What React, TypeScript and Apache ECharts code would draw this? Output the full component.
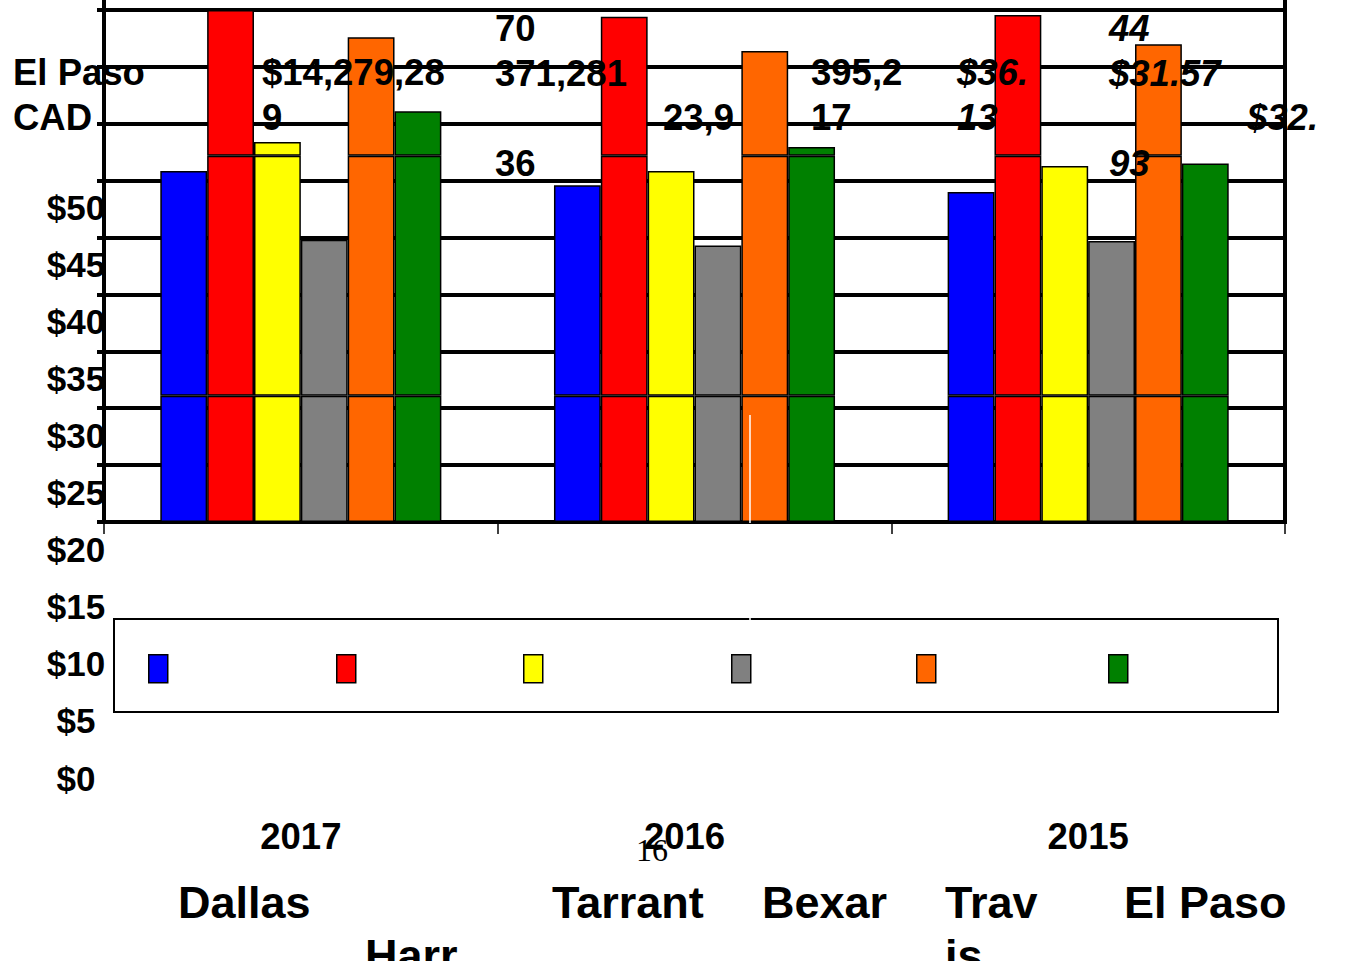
import React, { useEffect, useRef } from "react";
import * as echarts from "echarts";

// ---------- data ----------
const years = ["2017", "2016", "2015"];
const counties = ["Dallas", "Harris", "Tarrant", "Bexar", "Travis", "El Paso"];
const colors = ["#0000FF", "#FF0000", "#FFFF00", "#808080", "#FF6600", "#008000"];

const dallas = [30.85, 29.6, 29.0];
const harris = [45.0, 44.4, 44.55];
const tarrant = [33.4, 30.85, 31.3];
const bexar = [24.8, 24.3, 24.7];
const travis = [42.6, 41.4, 42.0];
const elPaso = [36.1, 32.95, 31.5];
const seriesValues = [dallas, harris, tarrant, bexar, travis, elPaso];

// levels where the bars show a horizontal seam
const seamLevels = [11.1, 32.2];

// bar value axis (visible part) and y tick labels range
const barAxisMax = 45;
const yMin = 0;
const yMax = 50;
const yStep = 5;

// loose text fragments printed over the chart
const noteTexts = [
  "El Paso\nCAD",
  "$14,279,28\n9",
  "70\n371,281\n\n36",
  "23,9",
  "395,2\n17",
  "$36.\n13",
  "44\n$31.57\n\n93",
  "$32.",
];
const noteItalic = [false, false, false, false, false, true, true, true];

// legend name fragments shown below the chart
const legendNameLines = [
  ["Dallas"],
  ["", "Harr", "is"],
  ["Tarrant"],
  ["Bexar"],
  ["Trav", "is"],
  ["El Paso"],
];

const pageNumber = "16";

// ---------- layout (positions only) ----------
const notePos = [
  [13, 1],
  [262, 1],
  [495, 0],
  [663, 2],
  [811, 1],
  [957, 1],
  [1109, 0],
  [1247, 2],
];
const rowCenters = [28, 72.5, 117.5, 162];
const legendMarkerX = [148, 336, 523, 731, 916, 1108];
const legendNameX = [178, 365, 552, 762, 945, 1124];

const FONT = "'Liberation Sans', Arial, Helvetica, sans-serif";

export default function App() {
  const ref = useRef<HTMLDivElement>(null);

  useEffect(() => {
    if (!ref.current) return;
    const chart = echarts.init(ref.current, null, { renderer: "svg" });

    const [b1, b2] = seamLevels;
    const series: any[] = [];
    seriesValues.forEach((vals, i) => {
      const segs = [
        vals.map((v) => Math.min(v, b1)),
        vals.map((v) => (v > b1 ? Math.min(v, b2) - b1 : "-")),
        vals.map((v) => (v > b2 ? v - b2 : "-")),
      ];
      segs.forEach((d) => {
        series.push({
          type: "bar",
          name: counties[i],
          stack: "s" + i,
          xAxisIndex: 0,
          yAxisIndex: 0,
          data: d,
          barGap: "0%",
          barCategoryGap: "28.6%",
          itemStyle: { color: colors[i], borderColor: "#000", borderWidth: 1.5 },
          emphasis: { disabled: true },
        });
      });
    });

    const legends = counties.map((c, i) => ({
      data: [c],
      left: legendMarkerX[i],
      top: 654,
      padding: 0,
      icon: "rect",
      itemWidth: 19,
      itemHeight: 28,
      selectedMode: false,
      formatter: () => "",
      itemStyle: { color: colors[i], borderColor: "#000", borderWidth: 1.5 },
    }));

    const graphics: any[] = [
      {
        type: "rect",
        shape: { x: 114, y: 619, width: 1164, height: 93 },
        style: { fill: "none", stroke: "#000", lineWidth: 2 },
        z: 0,
      },
      // axis lines continuing above the plot's visible top
      {
        type: "line",
        shape: { x1: 104, y1: 0, x2: 104, y2: 12 },
        style: { stroke: "#000", lineWidth: 4 },
        z: 50,
      },
      {
        type: "line",
        shape: { x1: 1285, y1: 0, x2: 1285, y2: 12 },
        style: { stroke: "#000", lineWidth: 4 },
        z: 50,
      },
      {
        type: "line",
        shape: { x1: 750, y1: 415, x2: 750, y2: 523 },
        style: { stroke: "#fff", lineWidth: 1.5 },
        z: 50,
      },
      {
        type: "line",
        shape: { x1: 750, y1: 616, x2: 750, y2: 622 },
        style: { stroke: "#fff", lineWidth: 1.5 },
        z: 50,
      },
    ];

    noteTexts.forEach((t, i) => {
      graphics.push({
        type: "text",
        z: 100,
        style: {
          text: t,
          x: notePos[i][0],
          y: rowCenters[notePos[i][1]] - 22.5,
          fill: "#000",
          fontSize: 36.5,
          fontWeight: "bold",
          fontStyle: noteItalic[i] ? "italic" : "normal",
          fontFamily: FONT,
          lineHeight: 45,
          align: "left",
          verticalAlign: "top",
        },
      });
    });

    legendNameLines.forEach((lines, i) => {
      graphics.push({
        type: "text",
        z: 100,
        style: {
          text: lines.join("\n"),
          x: legendNameX[i],
          y: 902 - 26.5,
          fill: "#000",
          fontSize: 45,
          fontWeight: "bold",
          fontFamily: FONT,
          lineHeight: 53,
          align: "left",
          verticalAlign: "top",
        },
      });
    });

    graphics.push({
      type: "text",
      z: 100,
      style: {
        text: pageNumber,
        x: 652,
        y: 850,
        fill: "#000",
        fontSize: 32,
        fontFamily: "'Liberation Serif', 'Times New Roman', serif",
        align: "center",
        verticalAlign: "middle",
      },
    });

    chart.setOption({
      animation: false,
      backgroundColor: "#fff",
      grid: [
        {
          left: 104,
          right: 63,
          top: 10,
          bottom: 439,
          show: true,
          borderColor: "#000",
          borderWidth: 4,
          backgroundColor: "transparent",
        },
        { left: 110, width: 10, top: 207, bottom: 183 },
      ],
      xAxis: [
        {
          type: "category",
          gridIndex: 0,
          data: years,
          axisLine: { show: true, lineStyle: { color: "#000", width: 4 } },
          axisTick: {
            show: true,
            alignWithLabel: false,
            length: 12,
            lineStyle: { color: "#000", width: 1.5 },
          },
          axisLabel: {
            margin: 294,
            color: "#000",
            fontSize: 36.5,
            fontWeight: "bold",
            fontFamily: FONT,
            lineHeight: 40,
            formatter: (v: string, idx: number) => (idx === 1 ? "{s|" + v + "}" : v),
            rich: {
              s: {
                fontSize: 36.5,
                fontWeight: "bold",
                fontFamily: FONT,
                color: "#000",
                lineHeight: 40,
                padding: [0, 20, 0, 0],
              },
            },
          },
          splitLine: { show: false },
        },
        { type: "value", gridIndex: 1, show: false, min: 0, max: 1 },
      ],
      yAxis: [
        {
          type: "value",
          gridIndex: 0,
          min: yMin,
          max: barAxisMax,
          interval: yStep,
          axisLabel: { show: false },
          axisLine: { show: true, lineStyle: { color: "#000", width: 4 } },
          axisTick: { show: true, length: 7, lineStyle: { color: "#000", width: 4 } },
          splitLine: { show: true, lineStyle: { color: "#000", width: 4 } },
        },
        {
          type: "value",
          gridIndex: 1,
          min: yMin,
          max: yMax,
          interval: yStep,
          axisLine: { show: false },
          axisTick: { show: false },
          splitLine: { show: false },
          axisLabel: {
            margin: 34,
            align: "center",
            color: "#000",
            fontSize: 35,
            fontWeight: "bold",
            fontFamily: FONT,
            formatter: (v: number) => "$" + v,
          },
        },
      ],
      legend: legends,
      series,
      graphic: graphics,
    });

    return () => chart.dispose();
  }, []);

  return (
    <div
      ref={ref}
      style={{ position: "fixed", left: 0, top: 0, width: 1348, height: 961, background: "#fff" }}
    />
  );
}
